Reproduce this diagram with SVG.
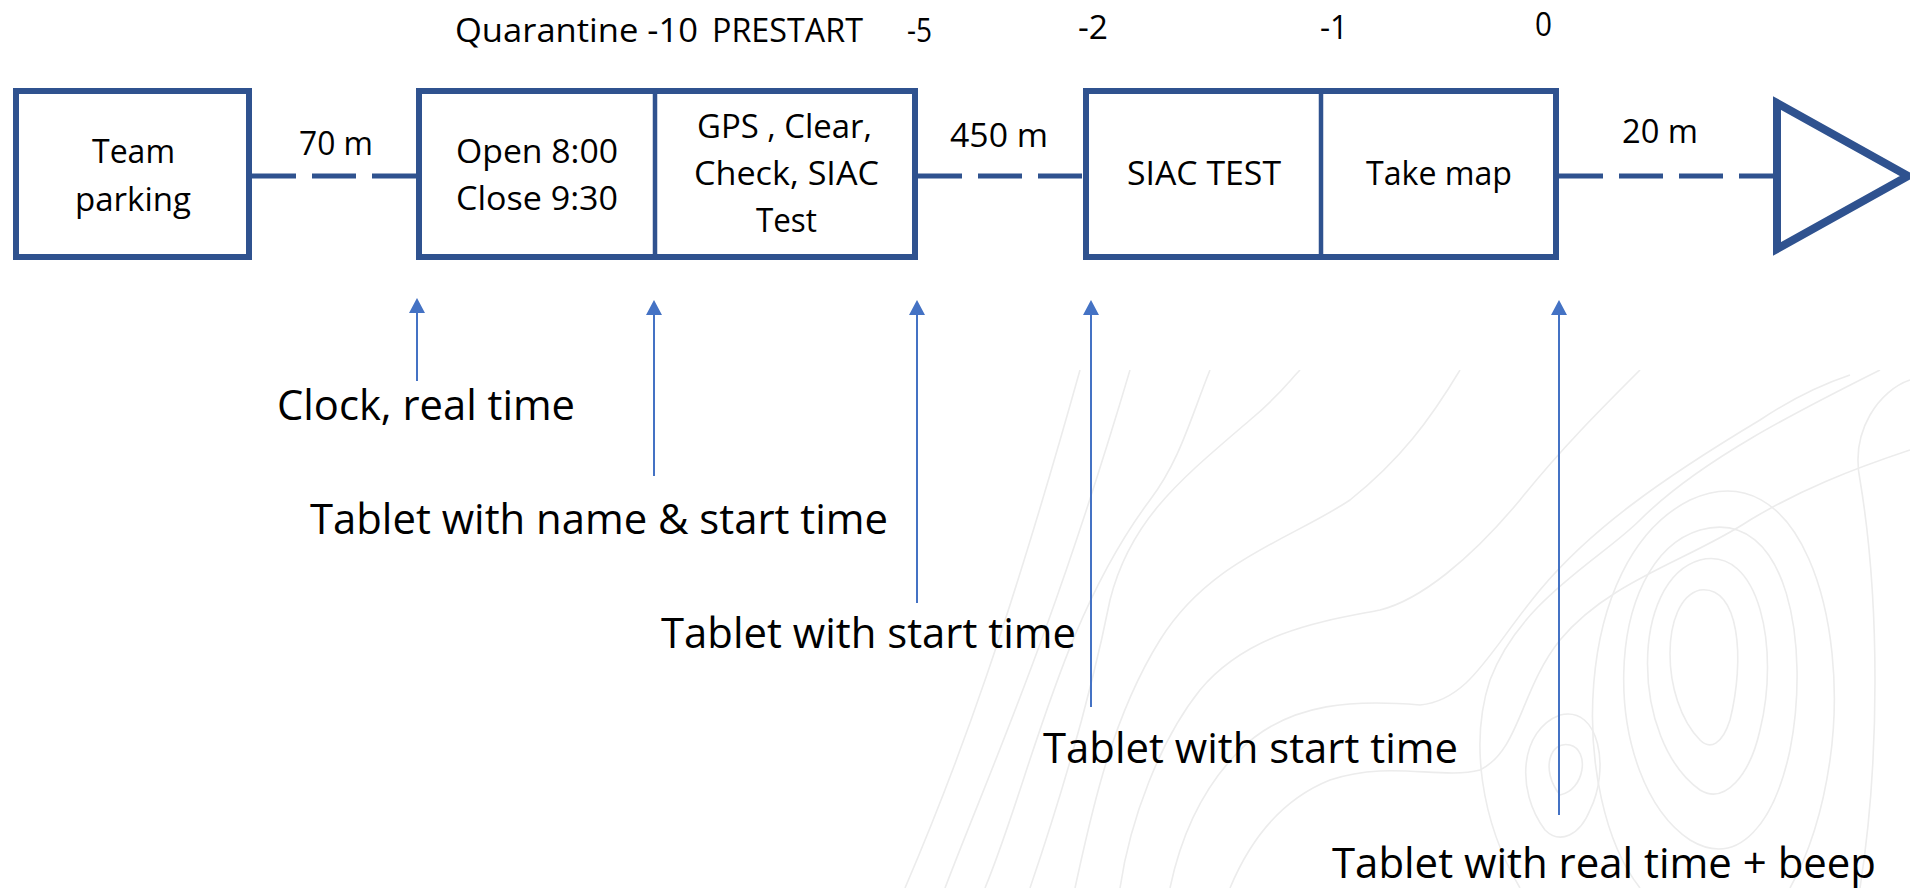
<svg xmlns="http://www.w3.org/2000/svg" width="1910" height="888" viewBox="0 0 1910 888">
<style>
.box{fill:#fff;stroke:#2F528F;stroke-width:6}
.div{stroke:#2F528F;stroke-width:4.5}
.dash{stroke:#2F528F;stroke-width:5;stroke-dasharray:44 16;fill:none}
.arr{stroke:#4472C4;stroke-width:2;fill:none}
.t{font-family:"Open Sans","Liberation Sans",sans-serif;fill:#000}
.bt{font-size:32.5px}
.hl{font-size:33px}
.lb{font-size:42px}
.topo{fill:none;stroke:#ececec;stroke-width:1.6}
</style>
<defs>
<marker id="ah" markerUnits="userSpaceOnUse" markerWidth="16" markerHeight="16" viewBox="0 0 16 16" refX="0" refY="8" orient="auto">
<path d="M0,0 L15,8 L0,16 z" fill="#4472C4"/>
</marker>
<clipPath id="tc"><rect x="900" y="370" width="1010" height="518"/></clipPath>
</defs>
<rect width="1910" height="888" fill="#fff"/>
<g id="background" clip-path="url(#tc)">
<path class="topo" d="M905,888 C960,760 1010,620 1080,370"/>
<path class="topo" d="M945,888 C990,770 1050,640 1130,370"/>
<path class="topo" d="M985,888 C1030,780 1060,620 1150,500 C1180,460 1190,420 1210,370"/>
<path class="topo" d="M1030,888 C1060,800 1090,700 1110,600 C1130,520 1180,480 1250,420 C1280,395 1290,380 1300,370"/>
<path class="topo" d="M1075,888 C1090,820 1110,720 1160,640 C1210,560 1290,540 1350,500 C1400,460 1430,420 1460,370"/>
<path class="topo" d="M1120,888 C1130,820 1160,740 1200,690 C1250,630 1330,620 1380,610 C1420,600 1470,560 1520,500 C1560,450 1600,410 1640,370"/>
<path class="topo" d="M1170,888 C1180,840 1200,790 1240,750 C1290,700 1360,700 1420,705 C1470,700 1490,650 1540,590 C1590,530 1660,480 1760,420 C1790,400 1820,385 1850,375"/>
<path class="topo" d="M1230,888 C1250,840 1280,800 1330,780 C1390,760 1440,780 1480,770 C1520,750 1520,690 1560,640 C1610,580 1690,560 1750,520 C1800,490 1850,470 1910,450"/>
<path class="topo" d="M1560,795 C1540,770 1550,740 1570,745 C1590,750 1585,790 1560,795 z"/>
<path class="topo" d="M1545,830 C1515,790 1520,730 1560,715 C1600,705 1610,770 1590,810 C1580,835 1560,845 1545,830 z"/>
<path class="topo" d="M1700,740 C1660,700 1660,600 1700,590 C1740,585 1745,660 1730,720 C1722,745 1710,750 1700,740 z"/>
<path class="topo" d="M1700,790 C1630,740 1630,580 1700,560 C1760,545 1780,650 1760,730 C1750,775 1725,805 1700,790 z"/>
<path class="topo" d="M1690,840 C1600,780 1600,560 1700,530 C1790,505 1810,650 1790,750 C1775,820 1740,870 1690,840 z"/>
<path class="topo" d="M1640,888 C1570,800 1570,560 1690,500 C1800,450 1850,620 1830,760 C1820,830 1800,870 1790,888"/>
<path class="topo" d="M1860,888 C1880,760 1880,600 1860,480 C1850,430 1880,390 1910,380"/>
<path class="topo" d="M1520,888 C1480,820 1470,740 1490,680 C1520,600 1600,560 1640,520 C1700,460 1800,410 1880,370"/>
</g>
<g id="connectors">
<line class="dash" x1="252" y1="176" x2="416" y2="176"/>
<line class="dash" x1="918" y1="176" x2="1083" y2="176"/>
<line class="dash" x1="1559" y1="176" x2="1773" y2="176"/>
<line class="arr" x1="417" y1="381" x2="417" y2="313" marker-end="url(#ah)"/>
<line class="arr" x1="654" y1="476" x2="654" y2="315" marker-end="url(#ah)"/>
<line class="arr" x1="917" y1="603" x2="917" y2="315" marker-end="url(#ah)"/>
<line class="arr" x1="1091" y1="707" x2="1091" y2="315" marker-end="url(#ah)"/>
<line class="arr" x1="1559" y1="815" x2="1559" y2="315" marker-end="url(#ah)"/>
</g>
<g id="timeline-labels">
<text class="t hl" x="455" y="42" textLength="243" lengthAdjust="spacingAndGlyphs">Quarantine -10</text>
<text class="t hl" x="712" y="42" textLength="151" lengthAdjust="spacingAndGlyphs">PRESTART</text>
<text class="t hl" x="907" y="42" textLength="25" lengthAdjust="spacingAndGlyphs">-5</text>
<text class="t hl" x="1078" y="39" textLength="30" lengthAdjust="spacingAndGlyphs">-2</text>
<text class="t hl" x="1320" y="39" textLength="28" lengthAdjust="spacingAndGlyphs">-1</text>
<text class="t hl" x="1535" y="36" textLength="17" lengthAdjust="spacingAndGlyphs">0</text>
</g>
<g id="team-parking">
<rect class="box" x="16" y="91" width="233" height="166"/>
<text class="t bt" x="92" y="163" textLength="83" lengthAdjust="spacingAndGlyphs">Team</text>
<text class="t bt" x="75" y="211" textLength="116" lengthAdjust="spacingAndGlyphs">parking</text>
</g>
<g id="dist-70">
<text class="t bt" x="299" y="155" textLength="74" lengthAdjust="spacingAndGlyphs">70 m</text>
</g>
<g id="quarantine">
<rect class="box" x="419" y="91" width="496" height="166"/>
<line class="div" x1="655" y1="91" x2="655" y2="257"/>
<text class="t bt" x="456" y="163" textLength="162" lengthAdjust="spacingAndGlyphs">Open 8:00</text>
<text class="t bt" x="456" y="210" textLength="162" lengthAdjust="spacingAndGlyphs">Close 9:30</text>
<text class="t bt" x="697" y="138" textLength="175" lengthAdjust="spacingAndGlyphs">GPS , Clear,</text>
<text class="t bt" x="694" y="185" textLength="185" lengthAdjust="spacingAndGlyphs">Check, SIAC</text>
<text class="t bt" x="756" y="232" textLength="61" lengthAdjust="spacingAndGlyphs">Test</text>
</g>
<g id="dist-450">
<text class="t bt" x="950" y="147" textLength="98" lengthAdjust="spacingAndGlyphs">450 m</text>
</g>
<g id="start-boxes">
<rect class="box" x="1086" y="91" width="470" height="166"/>
<line class="div" x1="1321" y1="91" x2="1321" y2="257"/>
<text class="t bt" x="1127" y="185" textLength="154" lengthAdjust="spacingAndGlyphs">SIAC TEST</text>
<text class="t bt" x="1366" y="185" textLength="146" lengthAdjust="spacingAndGlyphs">Take map</text>
</g>
<g id="dist-20">
<text class="t bt" x="1622" y="143" textLength="76" lengthAdjust="spacingAndGlyphs">20 m</text>
</g>
<g id="start-flag">
<polygon points="1777,103 1777,249 1908,176" fill="#fff" stroke="#2F528F" stroke-width="8" stroke-linejoin="miter" stroke-miterlimit="10"/>
</g>
<g id="notes">
<text class="t lb" x="277" y="420" textLength="298" lengthAdjust="spacingAndGlyphs">Clock, real time</text>
<text class="t lb" x="310" y="534" textLength="578" lengthAdjust="spacingAndGlyphs">Tablet with name &amp; start time</text>
<text class="t lb" x="661" y="648" textLength="415" lengthAdjust="spacingAndGlyphs">Tablet with start time</text>
<text class="t lb" x="1043" y="763" textLength="415" lengthAdjust="spacingAndGlyphs">Tablet with start time</text>
<text class="t lb" x="1332" y="878" textLength="544" lengthAdjust="spacingAndGlyphs">Tablet with real time + beep</text>
</g>
</svg>
